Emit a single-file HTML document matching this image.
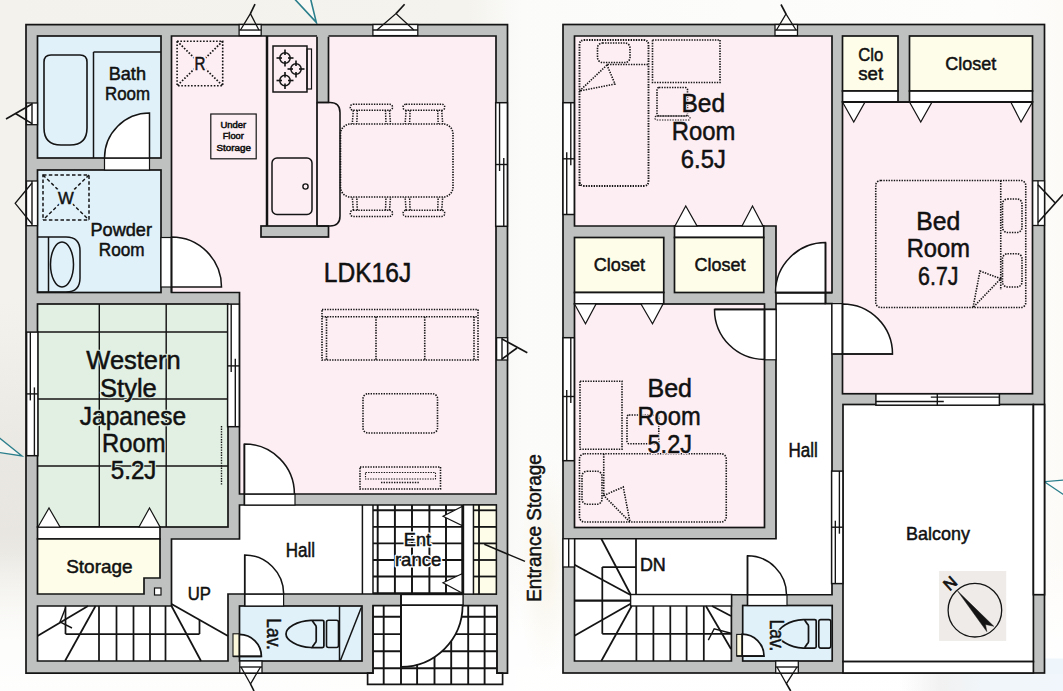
<!DOCTYPE html>
<html><head><meta charset="utf-8"><title>Floor Plan</title>
<style>
html,body{margin:0;padding:0;background:#fff;}
body{width:1063px;height:691px;overflow:hidden;}
svg{display:block;}
svg{font-family:"Liberation Sans",sans-serif;}
svg text:not(.h){fill:#111;stroke:#111;stroke-width:0.5px;}
</style></head><body>
<svg width="1063" height="691" viewBox="0 0 1063 691">
<defs>
<linearGradient id="bgx" x1="0" x2="1" y1="0" y2="0">
<stop offset="0" stop-color="#f3f2ec"/><stop offset="0.44" stop-color="#f4f3ed"/><stop offset="0.49" stop-color="#fbfbfa"/><stop offset="0.93" stop-color="#fdfdfc"/><stop offset="1" stop-color="#fdfbf8"/>
</linearGradient>
<linearGradient id="bgy" x1="0" x2="0" y1="0" y2="1">
<stop offset="0" stop-color="#fff" stop-opacity="0"/><stop offset="0.8" stop-color="#fff" stop-opacity="0"/><stop offset="0.93" stop-color="#fff" stop-opacity="0.85"/><stop offset="1" stop-color="#fff" stop-opacity="0.9"/>
</linearGradient>
<linearGradient id="shl" x1="0" x2="0" y1="0" y2="1">
<stop offset="0" stop-color="#e0dcd8" stop-opacity="0"/><stop offset="0.42" stop-color="#dedad6" stop-opacity="0.45"/><stop offset="0.6" stop-color="#dedad6" stop-opacity="0.5"/><stop offset="0.85" stop-color="#e8e5e2" stop-opacity="0"/><stop offset="1" stop-color="#fff" stop-opacity="0"/>
</linearGradient>
<linearGradient id="blb" x1="0" x2="1" y1="0" y2="0"><stop offset="0" stop-color="#f0f0f0" stop-opacity="0"/><stop offset="0.25" stop-color="#eeeeee" stop-opacity="0.8"/><stop offset="0.5" stop-color="#f1f6fa"/><stop offset="1" stop-color="#f0f6fb"/></linearGradient>
<radialGradient id="crm" cx="0.5" cy="0.5" r="0.5"><stop offset="0" stop-color="#f5f0df" stop-opacity="0.75"/><stop offset="1" stop-color="#f8f5ea" stop-opacity="0"/></radialGradient>
</defs>
<rect x="0" y="0" width="1063" height="691" fill="url(#bgx)"/>
<rect x="0" y="300" width="40" height="391" fill="url(#shl)"/>
<rect x="0" y="0" width="1063" height="691" fill="url(#bgy)"/>
<rect x="1044.6" y="658.5" width="19" height="33" fill="#eff6fb"/>
<rect x="900" y="673.7" width="163" height="18" fill="url(#blb)"/>
<ellipse cx="546" cy="565" rx="30" ry="110" fill="url(#crm)"/>
<path d="M294.60 -1.00 L316.30 22.40 L310.60 -1.00" fill="#fbf9f6" stroke="#2b7f8c" stroke-width="1.6" stroke-linejoin="miter" />
<path d="M-1.00 437.50 L22.00 456.00 L-1.00 452.50" fill="#f7f5f2" stroke="#2b7f8c" stroke-width="1.3" stroke-linejoin="miter" />
<path d="M1064.00 480.00 L1044.40 481.70 L1064.00 495.00" fill="#fdfcfa" stroke="#2b7f8c" stroke-width="1.3" stroke-linejoin="miter" />
<path d="M26.00 24.70 L507.50 24.70 L507.50 673.20 L496.90 673.20 L496.90 606.00 L373.10 606.00 L373.10 673.20 L26.00 673.20 Z" fill="#bfc1c0" stroke="#141414" stroke-width="1.7" stroke-linejoin="miter" />
<rect x="37.50" y="36.00" width="123.50" height="122.00" fill="#e0f1fa" stroke="#141414" stroke-width="1.7" />
<rect x="37.50" y="170.00" width="123.50" height="122.50" fill="#e0f1fa" stroke="#141414" stroke-width="1.7" />
<path d="M171.50 36.00 L496.00 36.00 L496.00 494.00 L239.50 494.00 L239.50 292.50 L171.50 292.50 Z" fill="#fdeef4" stroke="#141414" stroke-width="1.7" stroke-linejoin="miter" />
<rect x="37.50" y="304.00" width="190.50" height="223.00" fill="#e1f0e3" stroke="#141414" stroke-width="1.7" />
<rect x="37.50" y="527.00" width="122.50" height="12.00" fill="#fff" stroke="#141414" stroke-width="1.7" />
<path d="M37.50 539.00 L160.00 539.00 L160.00 578.00 L144.00 578.00 L144.00 594.00 L37.50 594.00 Z" fill="#fefde9" stroke="#141414" stroke-width="1.7" stroke-linejoin="miter" />
<path d="M171.50 539.00 L239.50 539.00 L239.50 505.00 L496.30 505.00 L496.30 594.00 L228.00 594.00 L228.00 661.00 L37.50 661.00 L37.50 606.00 L171.50 606.00 Z" fill="#fff" stroke="#141414" stroke-width="1.7" stroke-linejoin="miter" />
<rect x="239.50" y="606.00" width="122.50" height="55.00" fill="#e0f1fa" stroke="#141414" stroke-width="1.7" />
<path d="M373.10 605.70 L496.90 605.70 L496.90 673.20 L502.60 673.20 L502.60 684.40 L367.60 684.40 L367.60 673.20 L373.10 673.20 Z" fill="#fff" stroke="#141414" stroke-width="1.7" stroke-linejoin="miter" />
<rect x="563.00" y="24.50" width="481.50" height="648.50" fill="#bfc1c0" stroke="#141414" stroke-width="1.7" />
<path d="M574.50 36.00 L832.00 36.00 L832.00 292.60 L776.00 292.60 L776.00 226.00 L574.50 226.00 Z" fill="#fdeef4" stroke="#141414" stroke-width="1.7" stroke-linejoin="miter" />
<rect x="574.50" y="237.50" width="89.25" height="55.00" fill="#fefde9" stroke="#141414" stroke-width="1.7" />
<rect x="574.50" y="292.50" width="89.25" height="11.50" fill="#fff" stroke="#141414" stroke-width="1.7" />
<rect x="674.50" y="226.00" width="89.25" height="11.50" fill="#fff" stroke="#141414" stroke-width="1.7" />
<rect x="674.50" y="237.50" width="89.25" height="55.00" fill="#fefde9" stroke="#141414" stroke-width="1.7" />
<rect x="574.50" y="304.00" width="190.00" height="223.50" fill="#fdeef4" stroke="#141414" stroke-width="1.7" />
<path d="M776.00 292.60 L825.50 292.60 L825.50 303.60 L832.00 303.60 L832.00 594.75 L731.40 594.75 L731.40 661.00 L574.50 661.00 L574.50 538.75 L776.00 538.75 Z" fill="#fff" stroke="#141414" stroke-width="1.7" stroke-linejoin="miter" />
<rect x="842.50" y="36.00" width="55.50" height="55.00" fill="#fefde9" stroke="#141414" stroke-width="1.7" />
<rect x="842.50" y="91.00" width="55.50" height="11.00" fill="#fff" stroke="#141414" stroke-width="1.7" />
<rect x="909.50" y="36.00" width="123.00" height="55.00" fill="#fefde9" stroke="#141414" stroke-width="1.7" />
<rect x="909.50" y="91.00" width="123.00" height="11.00" fill="#fff" stroke="#141414" stroke-width="1.7" />
<rect x="842.50" y="102.00" width="190.00" height="291.75" fill="#fdeef4" stroke="#141414" stroke-width="1.7" />
<rect x="843.00" y="404.50" width="190.40" height="257.10" fill="#fff" stroke="#141414" stroke-width="1.7" />
<rect x="1033.40" y="404.50" width="11.10" height="190.20" fill="#fff" stroke="#141414" stroke-width="1.7" />
<rect x="843.00" y="661.60" width="190.40" height="11.40" fill="#fff" stroke="#141414" stroke-width="1.7" />
<rect x="742.70" y="605.50" width="89.50" height="55.50" fill="#e0f1fa" stroke="#141414" stroke-width="1.7" />
<path d="M44 62 Q44 55 51 55 L80 55 Q87 55 87 62 L87 128 Q87 145 70 145 L61 145 Q44 145 44 128 Z" fill="none" stroke="#141414" stroke-width="1.6"/>
<line x1="93.50" y1="52.00" x2="93.50" y2="158.00" stroke="#141414" stroke-width="1.5" />
<line x1="93.50" y1="52.00" x2="161.00" y2="52.00" stroke="#141414" stroke-width="1.5" />
<rect x="104.50" y="158.00" width="45.00" height="12.00" fill="#fff" stroke="#141414" stroke-width="1.2" />
<path d="M149.50 158.00 L104.50 158.00 A45 45 0 0 1 149.50 113.00 Z" fill="#fff" stroke="#141414" stroke-width="1.5" />
<rect x="317.00" y="34.00" width="11.50" height="68.50" fill="#bfc1c0" stroke="none" stroke-width="1.7" />
<path d="M317.00 36.85 L317.00 102.50 L328.50 102.50 L328.50 36.85" fill="none" stroke="#141414" stroke-width="1.7" stroke-linejoin="miter" />
<rect x="261.00" y="226.00" width="67.50" height="11.00" fill="#bfc1c0" stroke="#141414" stroke-width="1.7" />
<line x1="267.00" y1="36.00" x2="267.00" y2="226.00" stroke="#141414" stroke-width="2.5" />
<line x1="317.00" y1="102.50" x2="317.00" y2="226.00" stroke="#141414" stroke-width="1.75" />
<path d="M317 102.5 L330 102.5 Q340 102.5 340 112.5 L340 216 Q340 226 330 226 L317 226" fill="none" stroke="#141414" stroke-width="1.56" />
<rect x="273.00" y="46.00" width="34.00" height="46.00" fill="none" stroke="#141414" stroke-width="1.5" />
<rect x="307.00" y="49.00" width="4.50" height="40.00" fill="none" stroke="#141414" stroke-width="1.2" />
<circle cx="285" cy="58" r="5.2" fill="none" stroke="#141414" stroke-width="1.5"/>
<line x1="276.50" y1="58.00" x2="282.00" y2="58.00" stroke="#141414" stroke-width="1.62" />
<line x1="288.00" y1="58.00" x2="293.50" y2="58.00" stroke="#141414" stroke-width="1.62" />
<line x1="285.00" y1="49.50" x2="285.00" y2="55.00" stroke="#141414" stroke-width="1.62" />
<line x1="285.00" y1="61.00" x2="285.00" y2="66.50" stroke="#141414" stroke-width="1.62" />
<circle cx="296" cy="69" r="5.2" fill="none" stroke="#141414" stroke-width="1.5"/>
<line x1="287.50" y1="69.00" x2="293.00" y2="69.00" stroke="#141414" stroke-width="1.62" />
<line x1="299.00" y1="69.00" x2="304.50" y2="69.00" stroke="#141414" stroke-width="1.62" />
<line x1="296.00" y1="60.50" x2="296.00" y2="66.00" stroke="#141414" stroke-width="1.62" />
<line x1="296.00" y1="72.00" x2="296.00" y2="77.50" stroke="#141414" stroke-width="1.62" />
<circle cx="285" cy="80.5" r="5.2" fill="none" stroke="#141414" stroke-width="1.5"/>
<line x1="276.50" y1="80.50" x2="282.00" y2="80.50" stroke="#141414" stroke-width="1.62" />
<line x1="288.00" y1="80.50" x2="293.50" y2="80.50" stroke="#141414" stroke-width="1.62" />
<line x1="285.00" y1="72.00" x2="285.00" y2="77.50" stroke="#141414" stroke-width="1.62" />
<line x1="285.00" y1="83.50" x2="285.00" y2="89.00" stroke="#141414" stroke-width="1.62" />
<rect x="272" y="158" width="40" height="56.5" rx="5" fill="none" stroke="#141414" stroke-width="1.5"/>
<circle cx="305.5" cy="186.5" r="2.6" fill="none" stroke="#141414" stroke-width="1.4"/>
<rect x="177.10" y="41.20" width="45.60" height="44.60" rx="0" fill="none" stroke="#141414" stroke-width="1.6" stroke-dasharray="1.6 1.65"/>
<line x1="177.10" y1="41.20" x2="222.70" y2="85.80" stroke="#141414" stroke-width="1.75" stroke-dasharray="1.6 1.65"/>
<line x1="222.70" y1="41.20" x2="177.10" y2="85.80" stroke="#141414" stroke-width="1.75" stroke-dasharray="1.6 1.65"/>
<rect x="210.80" y="114.00" width="45.40" height="44.80" fill="none" stroke="#141414" stroke-width="1.2" />
<rect x="43.00" y="175.00" width="46.00" height="45.00" rx="0" fill="none" stroke="#141414" stroke-width="1.5" stroke-dasharray="3.5 2.3"/>
<line x1="43.00" y1="175.00" x2="89.00" y2="220.00" stroke="#141414" stroke-width="1.44" stroke-dasharray="3.5 2.3"/>
<line x1="89.00" y1="175.00" x2="43.00" y2="220.00" stroke="#141414" stroke-width="1.44" stroke-dasharray="3.5 2.3"/>
<path d="M37.5 237 L66 237 Q80 237 80 251 L80 278 Q80 292 66 292 L37.5 292" fill="none" stroke="#141414" stroke-width="1.5" />
<line x1="48.50" y1="237.00" x2="48.50" y2="292.00" stroke="#141414" stroke-width="1.5" />
<ellipse cx="62" cy="264.5" rx="11.5" ry="22.5" fill="none" stroke="#141414" stroke-width="1.5"/>
<rect x="161.00" y="237.50" width="10.50" height="49.50" fill="#fff" stroke="#141414" stroke-width="1.2" />
<path d="M171.50 287.00 L171.50 237.00 A50 50 0 0 1 221.50 287.00 Z" fill="#fff" stroke="#141414" stroke-width="1.5" />
<line x1="171.50" y1="237.50" x2="171.50" y2="292.50" stroke="#141414" stroke-width="1.75" />
<rect x="340.50" y="124.00" width="112.50" height="73.00" rx="10" fill="none" stroke="#141414" stroke-width="1.6" stroke-dasharray="1.4 1.2"/>
<rect x="350.30" y="104.20" width="42.20" height="6.10" rx="2.8" fill="none" stroke="#141414" stroke-width="1.5" stroke-dasharray="1.4 1.2"/>
<line x1="353.30" y1="110.30" x2="352.30" y2="124.00" stroke="#141414" stroke-width="1.5" stroke-dasharray="1.4 1.2"/>
<line x1="357.30" y1="110.30" x2="356.80" y2="124.00" stroke="#141414" stroke-width="1.5" stroke-dasharray="1.4 1.2"/>
<line x1="389.50" y1="110.30" x2="390.50" y2="124.00" stroke="#141414" stroke-width="1.5" stroke-dasharray="1.4 1.2"/>
<line x1="385.50" y1="110.30" x2="386.00" y2="124.00" stroke="#141414" stroke-width="1.5" stroke-dasharray="1.4 1.2"/>
<rect x="403.10" y="104.20" width="41.60" height="6.10" rx="2.8" fill="none" stroke="#141414" stroke-width="1.5" stroke-dasharray="1.4 1.2"/>
<line x1="406.10" y1="110.30" x2="405.10" y2="124.00" stroke="#141414" stroke-width="1.5" stroke-dasharray="1.4 1.2"/>
<line x1="410.10" y1="110.30" x2="409.60" y2="124.00" stroke="#141414" stroke-width="1.5" stroke-dasharray="1.4 1.2"/>
<line x1="441.70" y1="110.30" x2="442.70" y2="124.00" stroke="#141414" stroke-width="1.5" stroke-dasharray="1.4 1.2"/>
<line x1="437.70" y1="110.30" x2="438.20" y2="124.00" stroke="#141414" stroke-width="1.5" stroke-dasharray="1.4 1.2"/>
<rect x="350.30" y="210.30" width="42.20" height="6.10" rx="2.8" fill="none" stroke="#141414" stroke-width="1.5" stroke-dasharray="1.4 1.2"/>
<line x1="353.30" y1="210.30" x2="352.30" y2="197.00" stroke="#141414" stroke-width="1.5" stroke-dasharray="1.4 1.2"/>
<line x1="357.30" y1="210.30" x2="356.80" y2="197.00" stroke="#141414" stroke-width="1.5" stroke-dasharray="1.4 1.2"/>
<line x1="389.50" y1="210.30" x2="390.50" y2="197.00" stroke="#141414" stroke-width="1.5" stroke-dasharray="1.4 1.2"/>
<line x1="385.50" y1="210.30" x2="386.00" y2="197.00" stroke="#141414" stroke-width="1.5" stroke-dasharray="1.4 1.2"/>
<rect x="403.10" y="210.30" width="41.60" height="6.10" rx="2.8" fill="none" stroke="#141414" stroke-width="1.5" stroke-dasharray="1.4 1.2"/>
<line x1="406.10" y1="210.30" x2="405.10" y2="197.00" stroke="#141414" stroke-width="1.5" stroke-dasharray="1.4 1.2"/>
<line x1="410.10" y1="210.30" x2="409.60" y2="197.00" stroke="#141414" stroke-width="1.5" stroke-dasharray="1.4 1.2"/>
<line x1="441.70" y1="210.30" x2="442.70" y2="197.00" stroke="#141414" stroke-width="1.5" stroke-dasharray="1.4 1.2"/>
<line x1="437.70" y1="210.30" x2="438.20" y2="197.00" stroke="#141414" stroke-width="1.5" stroke-dasharray="1.4 1.2"/>
<rect x="322.00" y="309.50" width="156.00" height="50.50" rx="0" fill="none" stroke="#141414" stroke-width="1.6" stroke-dasharray="1.4 1.2"/>
<line x1="322.00" y1="316.75" x2="478.00" y2="316.75" stroke="#141414" stroke-width="1.62" stroke-dasharray="1.4 1.2"/>
<line x1="326.50" y1="316.75" x2="326.50" y2="360.00" stroke="#141414" stroke-width="1.62" stroke-dasharray="1.4 1.2"/>
<line x1="376.00" y1="316.75" x2="376.00" y2="360.00" stroke="#141414" stroke-width="1.62" stroke-dasharray="1.4 1.2"/>
<line x1="424.75" y1="316.75" x2="424.75" y2="360.00" stroke="#141414" stroke-width="1.62" stroke-dasharray="1.4 1.2"/>
<line x1="474.00" y1="316.75" x2="474.00" y2="360.00" stroke="#141414" stroke-width="1.62" stroke-dasharray="1.4 1.2"/>
<rect x="363.00" y="393.75" width="74.50" height="39.25" rx="5" fill="none" stroke="#141414" stroke-width="1.6" stroke-dasharray="1.4 1.2"/>
<rect x="360.00" y="467.00" width="80.50" height="22.00" rx="0" fill="none" stroke="#141414" stroke-width="1.6" stroke-dasharray="1.4 1.2"/>
<rect x="365.50" y="472.50" width="70.00" height="6.50" rx="0" fill="none" stroke="#141414" stroke-width="1.1" stroke-dasharray="1.4 1.2"/>
<line x1="381.00" y1="482.50" x2="420.00" y2="482.50" stroke="#141414" stroke-width="1.62" stroke-dasharray="1.4 1.2"/>
<rect x="244.40" y="494.00" width="50.60" height="11.00" fill="#fff" stroke="#141414" stroke-width="1.2" />
<path d="M244.40 494.00 L244.40 444.00 A50 50 0 0 1 294.40 494.00 Z" fill="#fff" stroke="#141414" stroke-width="1.5" />
<line x1="244.40" y1="444.00" x2="244.40" y2="505.00" stroke="#141414" stroke-width="1.62" />
<line x1="37.50" y1="332.00" x2="228.00" y2="332.00" stroke="#141414" stroke-width="1.44" />
<line x1="37.50" y1="399.00" x2="228.00" y2="399.00" stroke="#141414" stroke-width="1.44" />
<line x1="37.50" y1="466.00" x2="228.00" y2="466.00" stroke="#141414" stroke-width="1.44" />
<line x1="99.30" y1="304.00" x2="99.30" y2="527.00" stroke="#141414" stroke-width="1.44" />
<line x1="166.20" y1="304.00" x2="166.20" y2="527.00" stroke="#141414" stroke-width="1.44" />
<rect x="227.60" y="304.10" width="11.70" height="122.60" fill="#fff" stroke="#141414" stroke-width="1.5" />
<line x1="231.20" y1="304.00" x2="231.20" y2="372.00" stroke="#141414" stroke-width="1.38" />
<line x1="235.30" y1="358.80" x2="235.30" y2="426.70" stroke="#141414" stroke-width="1.38" />
<line x1="227.60" y1="365.90" x2="239.30" y2="365.90" stroke="#141414" stroke-width="1.38" />
<line x1="221.50" y1="426.00" x2="221.50" y2="485.00" stroke="#141414" stroke-width="1.38" stroke-dasharray="1.4 1.2"/>
<path d="M38.00 527.00 L49.00 508.00 L60.00 527.00 Z" fill="#fff" stroke="#141414" stroke-width="1.2" stroke-linejoin="miter" />
<path d="M139.00 527.00 L149.50 508.00 L160.00 527.00 Z" fill="#fff" stroke="#141414" stroke-width="1.2" stroke-linejoin="miter" />
<rect x="154.50" y="588.00" width="6.50" height="7.00" fill="#fff" stroke="#141414" stroke-width="1.2" />
<line x1="99.00" y1="606.00" x2="99.00" y2="661.00" stroke="#141414" stroke-width="1.75" />
<line x1="116.50" y1="606.00" x2="116.50" y2="661.00" stroke="#141414" stroke-width="1.75" />
<line x1="133.50" y1="606.00" x2="133.50" y2="661.00" stroke="#141414" stroke-width="1.75" />
<line x1="150.00" y1="606.00" x2="150.00" y2="661.00" stroke="#141414" stroke-width="1.75" />
<line x1="165.50" y1="606.00" x2="165.50" y2="661.00" stroke="#141414" stroke-width="1.75" />
<line x1="95.50" y1="606.00" x2="65.00" y2="661.00" stroke="#141414" stroke-width="1.75" />
<line x1="88.00" y1="606.00" x2="37.50" y2="636.00" stroke="#141414" stroke-width="1.75" />
<line x1="171.50" y1="606.00" x2="201.00" y2="661.00" stroke="#141414" stroke-width="1.75" />
<line x1="171.50" y1="604.00" x2="228.00" y2="636.00" stroke="#141414" stroke-width="1.75" />
<line x1="65.50" y1="634.00" x2="199.50" y2="634.00" stroke="#141414" stroke-width="1.75" />
<line x1="65.50" y1="606.00" x2="65.50" y2="634.00" stroke="#141414" stroke-width="1.75" />
<line x1="199.50" y1="620.00" x2="199.50" y2="634.00" stroke="#141414" stroke-width="1.75" />
<path d="M65.50 608.00 L60.00 622.00 L72.00 628.00" fill="none" stroke="#141414" stroke-width="1.4" stroke-linejoin="miter" />
<rect x="244.70" y="594.00" width="38.90" height="12.00" fill="#fff" stroke="#141414" stroke-width="1.2" />
<path d="M244.70 594.00 L244.70 555.00 A39 39 0 0 1 283.70 594.00 Z" fill="#fff" stroke="#141414" stroke-width="1.5" />
<line x1="244.70" y1="555.00" x2="244.70" y2="606.00" stroke="#141414" stroke-width="1.5" />
<rect x="233.00" y="633.80" width="6.40" height="22.60" fill="#fcf8dc" stroke="#141414" stroke-width="1.1" />
<path d="M239.40 656.40 L239.40 634.40 A22 22 0 0 1 261.40 656.40 Z" fill="#fff" stroke="#141414" stroke-width="1.75" />
<line x1="233.00" y1="656.40" x2="261.40" y2="656.40" stroke="#141414" stroke-width="1.62" />
<rect x="326.5" y="620.3" width="12.00" height="27.20" rx="2" fill="none" stroke="#141414" stroke-width="1.6"/>
<path d="M322.4 620.3 L310.9 620.3 C296.9 620.8 286.0 627.9 286.0 633.9 C286.0 639.9 296.9 647.0 310.9 647.5 L322.4 647.5 Q323.9 647.5 323.9 646.0 L323.9 621.8 Q323.9 620.3 322.4 620.3 Z" fill="none" stroke="#141414" stroke-width="1.75" />
<path d="M312.3 620.7 L314.9 624.5 Q316.2 625.5 316.2 627.0 L316.2 640.8 Q316.2 642.3 314.9 643.3 L312.3 647.1" fill="none" stroke="#141414" stroke-width="1.75" />
<line x1="339.50" y1="606.00" x2="339.50" y2="661.00" stroke="#141414" stroke-width="1.5" />
<line x1="361.30" y1="607.50" x2="340.30" y2="660.70" stroke="#141414" stroke-width="1.5" />
<line x1="373.00" y1="505.00" x2="373.00" y2="594.00" stroke="#141414" stroke-width="1.5" />
<line x1="362.40" y1="505.00" x2="362.40" y2="594.00" stroke="#141414" stroke-width="1.5" />
<line x1="377.70" y1="505.00" x2="377.70" y2="594.00" stroke="#141414" stroke-width="1.94" />
<line x1="394.90" y1="505.00" x2="394.90" y2="594.00" stroke="#141414" stroke-width="1.94" />
<line x1="412.00" y1="505.00" x2="412.00" y2="594.00" stroke="#141414" stroke-width="1.94" />
<line x1="429.40" y1="505.00" x2="429.40" y2="594.00" stroke="#141414" stroke-width="1.94" />
<line x1="446.00" y1="505.00" x2="446.00" y2="594.00" stroke="#141414" stroke-width="1.94" />
<line x1="462.20" y1="505.00" x2="462.20" y2="594.00" stroke="#141414" stroke-width="1.94" />
<line x1="373.00" y1="510.30" x2="463.60" y2="510.30" stroke="#141414" stroke-width="1.94" />
<line x1="373.00" y1="526.90" x2="463.60" y2="526.90" stroke="#141414" stroke-width="1.94" />
<line x1="373.00" y1="543.40" x2="463.60" y2="543.40" stroke="#141414" stroke-width="1.94" />
<line x1="373.00" y1="560.00" x2="463.60" y2="560.00" stroke="#141414" stroke-width="1.94" />
<line x1="373.00" y1="576.50" x2="463.60" y2="576.50" stroke="#141414" stroke-width="1.94" />
<line x1="373.00" y1="593.30" x2="463.60" y2="593.30" stroke="#141414" stroke-width="2.0" />
<rect x="463.60" y="505.00" width="9.90" height="89.00" fill="#fff" stroke="#141414" stroke-width="1.2" />
<rect x="473.50" y="505.00" width="22.80" height="89.00" fill="#fefde9" stroke="#141414" stroke-width="1.4" />
<line x1="479.00" y1="505.00" x2="479.00" y2="594.00" stroke="#141414" stroke-width="1.81" />
<line x1="473.50" y1="510.30" x2="496.30" y2="510.30" stroke="#141414" stroke-width="1.81" />
<line x1="473.50" y1="526.90" x2="496.30" y2="526.90" stroke="#141414" stroke-width="1.81" />
<line x1="473.50" y1="543.40" x2="496.30" y2="543.40" stroke="#141414" stroke-width="1.81" />
<line x1="473.50" y1="560.00" x2="496.30" y2="560.00" stroke="#141414" stroke-width="1.81" />
<line x1="473.50" y1="576.50" x2="496.30" y2="576.50" stroke="#141414" stroke-width="1.81" />
<path d="M462.00 506.50 L443.00 516.30 L462.00 525.60 Z" fill="#fff" stroke="#141414" stroke-width="1.2" stroke-linejoin="miter" />
<path d="M462.00 573.80 L443.00 582.70 L462.00 593.00 Z" fill="#fff" stroke="#141414" stroke-width="1.2" stroke-linejoin="miter" />
<line x1="484.30" y1="544.20" x2="525.00" y2="561.40" stroke="#141414" stroke-width="1.5" />
<line x1="383.70" y1="605.70" x2="383.70" y2="684.40" stroke="#141414" stroke-width="1.88" />
<line x1="401.00" y1="605.70" x2="401.00" y2="684.40" stroke="#141414" stroke-width="1.88" />
<line x1="417.10" y1="605.70" x2="417.10" y2="684.40" stroke="#141414" stroke-width="1.88" />
<line x1="434.50" y1="605.70" x2="434.50" y2="684.40" stroke="#141414" stroke-width="1.88" />
<line x1="451.20" y1="605.70" x2="451.20" y2="684.40" stroke="#141414" stroke-width="1.88" />
<line x1="468.20" y1="605.70" x2="468.20" y2="684.40" stroke="#141414" stroke-width="1.88" />
<line x1="484.60" y1="605.70" x2="484.60" y2="684.40" stroke="#141414" stroke-width="1.88" />
<line x1="373.10" y1="616.80" x2="496.90" y2="616.80" stroke="#141414" stroke-width="1.88" />
<line x1="373.10" y1="634.10" x2="496.90" y2="634.10" stroke="#141414" stroke-width="1.88" />
<line x1="373.10" y1="651.30" x2="496.90" y2="651.30" stroke="#141414" stroke-width="1.88" />
<line x1="373.10" y1="668.30" x2="496.90" y2="668.30" stroke="#141414" stroke-width="1.88" />
<rect x="401.00" y="594.50" width="62.10" height="11.20" fill="#fff" stroke="#141414" stroke-width="1.4" />
<path d="M401.00 605.20 L462.60 605.20 A61.6 61.6 0 0 1 401.00 666.80 Z" fill="#fff" stroke="#141414" stroke-width="1.75" />
<line x1="401.00" y1="594.50" x2="401.00" y2="667.00" stroke="#141414" stroke-width="1.88" />
<rect x="239.10" y="24.50" width="22.10" height="11.10" fill="#fff" stroke="#141414" stroke-width="1.3" />
<line x1="239.10" y1="30.05" x2="261.20" y2="30.05" stroke="#141414" stroke-width="1.38" />
<path d="M240.50 30.00 L250.40 13.60 L258.90 30.00" fill="none" stroke="#141414" stroke-width="1.3" stroke-linejoin="miter" />
<line x1="250.40" y1="13.60" x2="255.00" y2="4.20" stroke="#141414" stroke-width="1.62" />
<rect x="372.90" y="24.50" width="44.90" height="11.10" fill="#fff" stroke="#141414" stroke-width="1.3" />
<line x1="372.90" y1="30.05" x2="417.80" y2="30.05" stroke="#141414" stroke-width="1.38" />
<path d="M377.00 30.00 L396.00 13.60 L413.80 30.00" fill="none" stroke="#141414" stroke-width="1.3" stroke-linejoin="miter" />
<line x1="396.00" y1="13.60" x2="404.60" y2="4.20" stroke="#141414" stroke-width="1.62" />
<rect x="26.50" y="103.00" width="11.00" height="21.70" fill="#fff" stroke="#141414" stroke-width="1.3" />
<line x1="32.00" y1="103.00" x2="32.00" y2="124.70" stroke="#141414" stroke-width="1.38" />
<line x1="32.00" y1="104.00" x2="6.00" y2="119.00" stroke="#141414" stroke-width="1.62" />
<line x1="15.50" y1="113.50" x2="32.00" y2="123.60" stroke="#141414" stroke-width="1.62" />
<rect x="26.50" y="181.00" width="11.00" height="44.70" fill="#fff" stroke="#141414" stroke-width="1.3" />
<line x1="32.00" y1="181.00" x2="32.00" y2="225.70" stroke="#141414" stroke-width="1.38" />
<path d="M32.00 183.00 L15.20 203.30 L32.00 224.00" fill="none" stroke="#141414" stroke-width="1.3" stroke-linejoin="miter" />
<rect x="26.60" y="332.10" width="11.30" height="123.60" fill="#fff" stroke="#141414" stroke-width="1.5" />
<line x1="30.33" y1="332.10" x2="30.33" y2="400.40" stroke="#141414" stroke-width="1.38" />
<line x1="34.40" y1="387.40" x2="34.40" y2="455.70" stroke="#141414" stroke-width="1.38" />
<line x1="26.60" y1="393.90" x2="37.90" y2="393.90" stroke="#141414" stroke-width="1.38" />
<rect x="495.70" y="102.70" width="11.70" height="123.60" fill="#fff" stroke="#141414" stroke-width="1.5" />
<line x1="499.56" y1="102.70" x2="499.56" y2="171.00" stroke="#141414" stroke-width="1.38" />
<line x1="503.77" y1="158.00" x2="503.77" y2="226.30" stroke="#141414" stroke-width="1.38" />
<line x1="495.70" y1="164.50" x2="507.40" y2="164.50" stroke="#141414" stroke-width="1.38" />
<rect x="496.60" y="337.70" width="10.90" height="22.30" fill="#fff" stroke="#141414" stroke-width="1.3" />
<line x1="502.00" y1="337.70" x2="502.00" y2="360.00" stroke="#141414" stroke-width="1.38" />
<line x1="502.00" y1="339.00" x2="527.30" y2="352.70" stroke="#141414" stroke-width="1.62" />
<line x1="502.00" y1="359.00" x2="517.00" y2="348.00" stroke="#141414" stroke-width="1.62" />
<rect x="239.80" y="661.00" width="22.20" height="12.00" fill="#fff" stroke="#141414" stroke-width="1.3" />
<line x1="239.80" y1="667.00" x2="262.00" y2="667.00" stroke="#141414" stroke-width="1.38" />
<path d="M241.00 667.00 L250.50 684.00 L260.50 667.00" fill="none" stroke="#141414" stroke-width="1.3" stroke-linejoin="miter" />
<line x1="250.50" y1="684.00" x2="254.00" y2="691.00" stroke="#141414" stroke-width="1.62" />
<text x="108.70" y="79.70" font-size="17.8" textLength="37.30" lengthAdjust="spacingAndGlyphs" >Bath</text>
<text x="105.00" y="99.60" font-size="17.8" textLength="45.00" lengthAdjust="spacingAndGlyphs" >Room</text>
<text x="90.50" y="236.25" font-size="17.8" textLength="61.50" lengthAdjust="spacingAndGlyphs" >Powder</text>
<text x="98.75" y="256.25" font-size="17.8" textLength="45.75" lengthAdjust="spacingAndGlyphs" >Room</text>
<use href="#t1" fill="#fdeef4" stroke="#fdeef4" stroke-width="5" stroke-linejoin="round"/>
<g fill="#111" stroke="#111" stroke-width="0.5"><text id="t1" class="h" x="194.50" y="69.80" font-size="17.6" textLength="10.90" lengthAdjust="spacingAndGlyphs" >R</text></g>
<use href="#t2" fill="#e0f1fa" stroke="#e0f1fa" stroke-width="5" stroke-linejoin="round"/>
<g fill="#111" stroke="#111" stroke-width="0.5"><text id="t2" class="h" x="58.00" y="203.75" font-size="17.4" textLength="15.75" lengthAdjust="spacingAndGlyphs" >W</text></g>
<text x="220.40" y="127.80" font-size="8.8" textLength="25.80" lengthAdjust="spacingAndGlyphs" >Under</text>
<text x="222.70" y="139.40" font-size="8.8" textLength="21.10" lengthAdjust="spacingAndGlyphs" >Floor</text>
<text x="216.50" y="151.10" font-size="8.8" textLength="34.40" lengthAdjust="spacingAndGlyphs" >Storage</text>
<text x="323.70" y="281.80" font-size="27.6" textLength="87.60" lengthAdjust="spacingAndGlyphs" >LDK16J</text>
<use href="#t3" fill="#e1f0e3" stroke="#e1f0e3" stroke-width="2.4" stroke-linejoin="round"/>
<g fill="#111" stroke="#111" stroke-width="0.5"><text id="t3" class="h" x="86.30" y="369.30" font-size="25.4" textLength="94.40" lengthAdjust="spacingAndGlyphs" >Western</text></g>
<use href="#t4" fill="#e1f0e3" stroke="#e1f0e3" stroke-width="2.4" stroke-linejoin="round"/>
<g fill="#111" stroke="#111" stroke-width="0.5"><text id="t4" class="h" x="100.00" y="396.90" font-size="25.4" textLength="56.80" lengthAdjust="spacingAndGlyphs" >Style</text></g>
<use href="#t5" fill="#e1f0e3" stroke="#e1f0e3" stroke-width="2.4" stroke-linejoin="round"/>
<g fill="#111" stroke="#111" stroke-width="0.5"><text id="t5" class="h" x="79.80" y="424.70" font-size="25.4" textLength="106.30" lengthAdjust="spacingAndGlyphs" >Japanese</text></g>
<use href="#t6" fill="#e1f0e3" stroke="#e1f0e3" stroke-width="2.4" stroke-linejoin="round"/>
<g fill="#111" stroke="#111" stroke-width="0.5"><text id="t6" class="h" x="102.10" y="452.40" font-size="25.4" textLength="63.40" lengthAdjust="spacingAndGlyphs" >Room</text></g>
<use href="#t7" fill="#e1f0e3" stroke="#e1f0e3" stroke-width="2.4" stroke-linejoin="round"/>
<g fill="#111" stroke="#111" stroke-width="0.5"><text id="t7" class="h" x="110.80" y="478.90" font-size="25.4" textLength="45.60" lengthAdjust="spacingAndGlyphs" >5.2J</text></g>
<text x="66.20" y="573.20" font-size="19" textLength="66.40" lengthAdjust="spacingAndGlyphs" >Storage</text>
<text x="187.70" y="599.90" font-size="18.7" textLength="23.20" lengthAdjust="spacingAndGlyphs" >UP</text>
<text x="285.80" y="556.90" font-size="19.5" textLength="29.30" lengthAdjust="spacingAndGlyphs" >Hall</text>
<use href="#t8" fill="#fff" stroke="#fff" stroke-width="3.2" stroke-linejoin="round"/>
<g fill="#111" stroke="#111" stroke-width="0.5"><text id="t8" class="h" x="403.80" y="546.30" font-size="17.9" textLength="27.20" lengthAdjust="spacingAndGlyphs" >Ent</text></g>
<use href="#t9" fill="#fff" stroke="#fff" stroke-width="3.2" stroke-linejoin="round"/>
<g fill="#111" stroke="#111" stroke-width="0.5"><text id="t9" class="h" x="394.90" y="566.20" font-size="17.9" textLength="46.50" lengthAdjust="spacingAndGlyphs" >rance</text></g>
<text transform="translate(541.2,601.8) rotate(-90)" font-size="19.5" textLength="147.6" lengthAdjust="spacingAndGlyphs">Entrance Storage</text>
<text transform="translate(266.9,618.3) rotate(90)" font-size="19.5" textLength="31.6" lengthAdjust="spacingAndGlyphs">Lav.</text>
<path d="M579.5 186 L579.5 45 Q579.5 40 584.5 40 L643.5 40 Q648.5 40 648.5 45 L648.5 181 Q648.5 186 643.5 186 L584.5 186 Q579.5 186 579.5 181" fill="none" stroke="#141414" stroke-width="1.88" stroke-dasharray="1.4 1.2"/>
<line x1="607.50" y1="64.50" x2="648.50" y2="64.50" stroke="#141414" stroke-width="1.62" stroke-dasharray="1.4 1.2"/>
<rect x="597.50" y="43.00" width="32.50" height="19.50" rx="5" fill="none" stroke="#141414" stroke-width="1.6" stroke-dasharray="1.4 1.2"/>
<path d="M607.00 65.00 L579.50 91.00 L615.00 84.00 Z" fill="none" stroke="#141414" stroke-width="1.6" stroke-linejoin="miter" stroke-dasharray="1.4 1.2"/>
<rect x="652.50" y="40.00" width="67.50" height="42.50" rx="0" fill="none" stroke="#141414" stroke-width="1.6" stroke-dasharray="1.4 1.2"/>
<rect x="657.00" y="87.50" width="30.50" height="28.50" rx="2" fill="none" stroke="#141414" stroke-width="1.6" stroke-dasharray="1.4 1.2"/>
<rect x="655.00" y="116.00" width="35.00" height="4.00" rx="1.5" fill="none" stroke="#141414" stroke-width="1.1" stroke-dasharray="1.4 1.2"/>
<path d="M675.00 226.00 L685.75 206.00 L697.00 226.00 Z" fill="#fff" stroke="#141414" stroke-width="1.2" stroke-linejoin="miter" />
<path d="M742.00 226.00 L752.50 206.00 L763.00 226.00 Z" fill="#fff" stroke="#141414" stroke-width="1.2" stroke-linejoin="miter" />
<path d="M574.50 304.00 L585.50 323.75 L596.00 304.00 Z" fill="#fff" stroke="#141414" stroke-width="1.2" stroke-linejoin="miter" />
<path d="M641.00 304.00 L652.50 323.75 L663.00 304.00 Z" fill="#fff" stroke="#141414" stroke-width="1.2" stroke-linejoin="miter" />
<path d="M842.50 102.00 L853.75 122.00 L865.00 102.00 Z" fill="#fff" stroke="#141414" stroke-width="1.2" stroke-linejoin="miter" />
<path d="M909.50 102.00 L920.75 122.00 L932.00 102.00 Z" fill="#fff" stroke="#141414" stroke-width="1.2" stroke-linejoin="miter" />
<path d="M1010.75 102.00 L1021.00 122.00 L1032.50 102.00 Z" fill="#fff" stroke="#141414" stroke-width="1.2" stroke-linejoin="miter" />
<line x1="842.50" y1="102.00" x2="1032.50" y2="102.00" stroke="#141414" stroke-width="1.75" />
<path d="M825.50 292.60 L775.50 292.60 A50 50 0 0 1 825.50 242.60 Z" fill="#fff" stroke="#141414" stroke-width="1.5" />
<line x1="825.50" y1="242.60" x2="825.50" y2="303.60" stroke="#141414" stroke-width="1.62" />
<line x1="776.00" y1="292.60" x2="832.00" y2="292.60" stroke="#141414" stroke-width="1.62" />
<line x1="776.00" y1="303.60" x2="825.50" y2="303.60" stroke="#141414" stroke-width="1.62" />
<rect x="832.00" y="303.60" width="10.50" height="50.40" fill="#fff" stroke="#141414" stroke-width="1.2" />
<path d="M842.50 354.00 L842.50 304.00 A50 50 0 0 1 892.50 354.00 Z" fill="#fff" stroke="#141414" stroke-width="1.5" />
<line x1="832.00" y1="354.00" x2="893.00" y2="354.00" stroke="#141414" stroke-width="1.62" />
<line x1="842.50" y1="303.60" x2="842.50" y2="354.00" stroke="#141414" stroke-width="1.62" />
<rect x="764.50" y="309.40" width="11.50" height="50.40" fill="#fff" stroke="#141414" stroke-width="1.2" />
<path d="M764.50 309.40 L764.50 359.40 A50 50 0 0 1 714.50 309.40 Z" fill="#fff" stroke="#141414" stroke-width="1.5" />
<line x1="714.50" y1="309.40" x2="776.00" y2="309.40" stroke="#141414" stroke-width="1.62" />
<line x1="764.50" y1="309.40" x2="764.50" y2="359.80" stroke="#141414" stroke-width="1.62" />
<rect x="747.50" y="594.75" width="39.50" height="10.75" fill="#fff" stroke="#141414" stroke-width="1.2" />
<path d="M747.50 594.75 L747.50 555.75 A39 39 0 0 1 786.50 594.75 Z" fill="#fff" stroke="#141414" stroke-width="1.5" />
<line x1="747.50" y1="555.75" x2="747.50" y2="605.50" stroke="#141414" stroke-width="1.5" />
<rect x="736.70" y="634.40" width="5.50" height="21.60" fill="#fcf8dc" stroke="#141414" stroke-width="1.1" />
<path d="M742.20 656.00 L742.20 634.20 A21.8 21.8 0 0 1 764.00 656.00 Z" fill="#fff" stroke="#141414" stroke-width="1.75" />
<line x1="736.70" y1="656.00" x2="764.00" y2="656.00" stroke="#141414" stroke-width="1.62" />
<rect x="818.8" y="619.6" width="12.00" height="28.50" rx="2" fill="none" stroke="#141414" stroke-width="1.6"/>
<path d="M814.7 619.6 L803.2 619.6 C789.2 620.1 778.0 627.9 778.0 633.9 C778.0 639.9 789.2 647.6 803.2 648.1 L814.7 648.1 Q816.2 648.1 816.2 646.6 L816.2 621.1 Q816.2 619.6 814.7 619.6 Z" fill="none" stroke="#141414" stroke-width="1.75" />
<path d="M804.6 620.0 L807.2 623.8 Q808.5 624.8 808.5 626.3 L808.5 641.4 Q808.5 642.9 807.2 643.9 L804.6 647.7" fill="none" stroke="#141414" stroke-width="1.75" />
<rect x="580.00" y="381.25" width="42.00" height="68.00" rx="0" fill="none" stroke="#141414" stroke-width="1.6" stroke-dasharray="1.4 1.2"/>
<rect x="627.00" y="415.00" width="31.75" height="28.75" rx="2" fill="none" stroke="#141414" stroke-width="1.6" stroke-dasharray="1.4 1.2"/>
<rect x="579.50" y="453.75" width="146.75" height="68.25" rx="5" fill="none" stroke="#141414" stroke-width="1.6" stroke-dasharray="1.4 1.2"/>
<line x1="603.75" y1="453.75" x2="603.75" y2="495.50" stroke="#141414" stroke-width="1.62" stroke-dasharray="1.4 1.2"/>
<rect x="582.00" y="471.25" width="20.00" height="33.00" rx="5" fill="none" stroke="#141414" stroke-width="1.6" stroke-dasharray="1.4 1.2"/>
<path d="M603.75 495.50 L623.25 487.00 L630.00 522.00 Z" fill="none" stroke="#141414" stroke-width="1.6" stroke-linejoin="miter" stroke-dasharray="1.4 1.2"/>
<rect x="875.75" y="180.50" width="150.00" height="127.00" rx="5" fill="none" stroke="#141414" stroke-width="1.6" stroke-dasharray="1.4 1.2"/>
<line x1="1000.75" y1="180.50" x2="1000.75" y2="290.00" stroke="#141414" stroke-width="1.62" stroke-dasharray="1.4 1.2"/>
<rect x="1002.50" y="199.00" width="19.50" height="33.50" rx="5" fill="none" stroke="#141414" stroke-width="1.6" stroke-dasharray="1.4 1.2"/>
<rect x="1002.50" y="253.75" width="19.50" height="33.25" rx="5" fill="none" stroke="#141414" stroke-width="1.6" stroke-dasharray="1.4 1.2"/>
<path d="M980.00 271.00 L1000.75 278.75 L973.00 307.50 Z" fill="none" stroke="#141414" stroke-width="1.6" stroke-linejoin="miter" stroke-dasharray="1.4 1.2"/>
<rect x="775.00" y="24.50" width="22.50" height="11.10" fill="#fff" stroke="#141414" stroke-width="1.3" />
<line x1="775.00" y1="30.05" x2="797.50" y2="30.05" stroke="#141414" stroke-width="1.38" />
<path d="M776.50 30.00 L786.00 14.00 L796.00 30.00" fill="none" stroke="#141414" stroke-width="1.3" stroke-linejoin="miter" />
<line x1="786.00" y1="14.00" x2="781.00" y2="4.50" stroke="#141414" stroke-width="1.62" />
<rect x="563.00" y="102.70" width="11.30" height="111.80" fill="#fff" stroke="#141414" stroke-width="1.5" />
<line x1="570.80" y1="102.70" x2="570.80" y2="165.30" stroke="#141414" stroke-width="1.38" />
<line x1="566.73" y1="152.30" x2="566.73" y2="214.50" stroke="#141414" stroke-width="1.38" />
<line x1="563.00" y1="158.80" x2="574.30" y2="158.80" stroke="#141414" stroke-width="1.38" />
<rect x="563.00" y="337.70" width="11.30" height="123.00" fill="#fff" stroke="#141414" stroke-width="1.5" />
<line x1="570.80" y1="337.70" x2="570.80" y2="403.00" stroke="#141414" stroke-width="1.38" />
<line x1="566.73" y1="390.00" x2="566.73" y2="460.70" stroke="#141414" stroke-width="1.38" />
<line x1="563.00" y1="396.50" x2="574.30" y2="396.50" stroke="#141414" stroke-width="1.38" />
<rect x="563.00" y="538.75" width="11.50" height="28.25" fill="#fff" stroke="#141414" stroke-width="1.3" />
<line x1="568.70" y1="538.75" x2="568.70" y2="567.00" stroke="#141414" stroke-width="1.38" />
<rect x="1032.70" y="180.80" width="11.80" height="44.70" fill="#fff" stroke="#141414" stroke-width="1.3" />
<line x1="1038.00" y1="180.80" x2="1038.00" y2="225.50" stroke="#141414" stroke-width="1.38" />
<line x1="1038.00" y1="184.70" x2="1055.00" y2="202.70" stroke="#141414" stroke-width="1.62" />
<line x1="1038.00" y1="222.50" x2="1063.00" y2="194.50" stroke="#141414" stroke-width="1.62" />
<rect x="875.90" y="393.90" width="123.50" height="11.30" fill="#fff" stroke="#141414" stroke-width="1.5" />
<line x1="930.80" y1="397.18" x2="999.40" y2="397.18" stroke="#141414" stroke-width="1.38" />
<line x1="875.90" y1="401.47" x2="943.80" y2="401.47" stroke="#141414" stroke-width="1.38" />
<line x1="937.30" y1="393.90" x2="937.30" y2="405.20" stroke="#141414" stroke-width="1.38" />
<rect x="831.60" y="471.10" width="11.30" height="112.50" fill="#fff" stroke="#141414" stroke-width="1.5" />
<line x1="839.40" y1="471.10" x2="839.40" y2="533.70" stroke="#141414" stroke-width="1.38" />
<line x1="835.33" y1="520.70" x2="835.33" y2="583.60" stroke="#141414" stroke-width="1.38" />
<line x1="831.60" y1="527.20" x2="842.90" y2="527.20" stroke="#141414" stroke-width="1.38" />
<rect x="775.70" y="661.00" width="22.60" height="12.00" fill="#fff" stroke="#141414" stroke-width="1.3" />
<line x1="775.70" y1="667.00" x2="798.30" y2="667.00" stroke="#141414" stroke-width="1.38" />
<path d="M777.00 667.00 L786.40 683.70 L797.00 667.00" fill="none" stroke="#141414" stroke-width="1.3" stroke-linejoin="miter" />
<line x1="786.40" y1="683.70" x2="790.70" y2="691.00" stroke="#141414" stroke-width="1.62" />
<rect x="630.60" y="594.50" width="100.90" height="11.50" fill="#fff" stroke="#141414" stroke-width="1.4" />
<line x1="636.40" y1="606.00" x2="636.40" y2="661.00" stroke="#141414" stroke-width="1.75" />
<line x1="653.40" y1="606.00" x2="653.40" y2="661.00" stroke="#141414" stroke-width="1.75" />
<line x1="670.30" y1="606.00" x2="670.30" y2="661.00" stroke="#141414" stroke-width="1.75" />
<line x1="686.60" y1="606.00" x2="686.60" y2="661.00" stroke="#141414" stroke-width="1.75" />
<line x1="703.80" y1="606.00" x2="703.80" y2="661.00" stroke="#141414" stroke-width="1.75" />
<line x1="602.30" y1="633.80" x2="731.00" y2="633.80" stroke="#141414" stroke-width="1.75" />
<line x1="602.30" y1="567.00" x2="602.30" y2="633.80" stroke="#141414" stroke-width="1.75" />
<line x1="602.30" y1="567.00" x2="636.00" y2="567.00" stroke="#141414" stroke-width="1.75" />
<line x1="636.00" y1="538.75" x2="636.00" y2="594.50" stroke="#141414" stroke-width="1.75" />
<line x1="574.50" y1="600.60" x2="630.60" y2="600.60" stroke="#141414" stroke-width="2.12" />
<line x1="601.30" y1="538.75" x2="630.60" y2="594.50" stroke="#141414" stroke-width="1.75" />
<line x1="574.50" y1="564.70" x2="630.60" y2="595.10" stroke="#141414" stroke-width="1.75" />
<line x1="630.60" y1="603.80" x2="574.50" y2="635.80" stroke="#141414" stroke-width="1.75" />
<line x1="631.70" y1="606.00" x2="601.30" y2="661.00" stroke="#141414" stroke-width="1.75" />
<line x1="705.90" y1="606.00" x2="731.00" y2="649.00" stroke="#141414" stroke-width="1.75" />
<line x1="712.00" y1="606.00" x2="731.00" y2="616.00" stroke="#141414" stroke-width="1.75" />
<path d="M708.30 640.10 L714.20 628.80 L731.00 633.30" fill="none" stroke="#141414" stroke-width="1.4" stroke-linejoin="miter" />
<rect x="939.10" y="571.00" width="67.10" height="69.90" fill="#eeebe8" stroke="none" stroke-width="1.7" />
<circle cx="974.9" cy="610.2" r="26.8" fill="none" stroke="#141414" stroke-width="1.3"/>
<path d="M957.60 591.00 L993.80 626.30 L985.50 624.40 L986.80 631.60 Z" fill="#141414" stroke="#141414" stroke-width="0.5" stroke-linejoin="miter" />
<text transform="translate(949.5,591.5) rotate(-42)" font-size="16.5" style="stroke-width:0.7px">N</text>
<use href="#t10" fill="#fdeef4" stroke="#fdeef4" stroke-width="2.4" stroke-linejoin="round"/>
<g fill="#111" stroke="#111" stroke-width="0.5"><text id="t10" class="h" x="681.50" y="112.40" font-size="25.8" textLength="43.60" lengthAdjust="spacingAndGlyphs" >Bed</text></g>
<text x="671.70" y="140.40" font-size="25.8" textLength="63.60" lengthAdjust="spacingAndGlyphs" >Room</text>
<text x="680.80" y="168.20" font-size="25.8" textLength="45.00" lengthAdjust="spacingAndGlyphs" >6.5J</text>
<text x="593.80" y="271.20" font-size="18.8" textLength="51.20" lengthAdjust="spacingAndGlyphs" >Closet</text>
<text x="694.50" y="271.20" font-size="18.8" textLength="50.90" lengthAdjust="spacingAndGlyphs" >Closet</text>
<text x="858.25" y="60.75" font-size="18.8" textLength="25.00" lengthAdjust="spacingAndGlyphs" >Clo</text>
<text x="858.25" y="80.00" font-size="18.8" textLength="25.00" lengthAdjust="spacingAndGlyphs" >set</text>
<text x="945.25" y="70.20" font-size="18.8" textLength="51.00" lengthAdjust="spacingAndGlyphs" >Closet</text>
<text x="916.30" y="229.60" font-size="25" textLength="44.00" lengthAdjust="spacingAndGlyphs" >Bed</text>
<text x="906.70" y="257.10" font-size="25" textLength="63.20" lengthAdjust="spacingAndGlyphs" >Room</text>
<text x="918.10" y="285.00" font-size="25" textLength="40.40" lengthAdjust="spacingAndGlyphs" >6.7J</text>
<use href="#t11" fill="#fdeef4" stroke="#fdeef4" stroke-width="2.4" stroke-linejoin="round"/>
<g fill="#111" stroke="#111" stroke-width="0.5"><text id="t11" class="h" x="647.50" y="397.00" font-size="25.8" textLength="44.50" lengthAdjust="spacingAndGlyphs" >Bed</text></g>
<use href="#t12" fill="#fdeef4" stroke="#fdeef4" stroke-width="2.4" stroke-linejoin="round"/>
<g fill="#111" stroke="#111" stroke-width="0.5"><text id="t12" class="h" x="637.50" y="425.00" font-size="25.8" textLength="63.25" lengthAdjust="spacingAndGlyphs" >Room</text></g>
<use href="#t13" fill="#fdeef4" stroke="#fdeef4" stroke-width="2.4" stroke-linejoin="round"/>
<g fill="#111" stroke="#111" stroke-width="0.5"><text id="t13" class="h" x="647.50" y="452.50" font-size="25.8" textLength="44.50" lengthAdjust="spacingAndGlyphs" >5.2J</text></g>
<text x="788.50" y="456.50" font-size="19.5" textLength="29.30" lengthAdjust="spacingAndGlyphs" >Hall</text>
<text x="639.90" y="571.30" font-size="17.5" textLength="25.90" lengthAdjust="spacingAndGlyphs" >DN</text>
<text x="906.00" y="540.00" font-size="19" textLength="63.90" lengthAdjust="spacingAndGlyphs" >Balcony</text>
<use href="#t14" fill="#e0f1fa" stroke="#e0f1fa" stroke-width="2.2" stroke-linejoin="round"/>
<g fill="#111" stroke="#111" stroke-width="0.5"><text id="t14" class="h" transform="translate(770.20,619.60) rotate(90)" font-size="19.5" textLength="31.80" lengthAdjust="spacingAndGlyphs" >Lav.</text></g>
</svg>
</body></html>
